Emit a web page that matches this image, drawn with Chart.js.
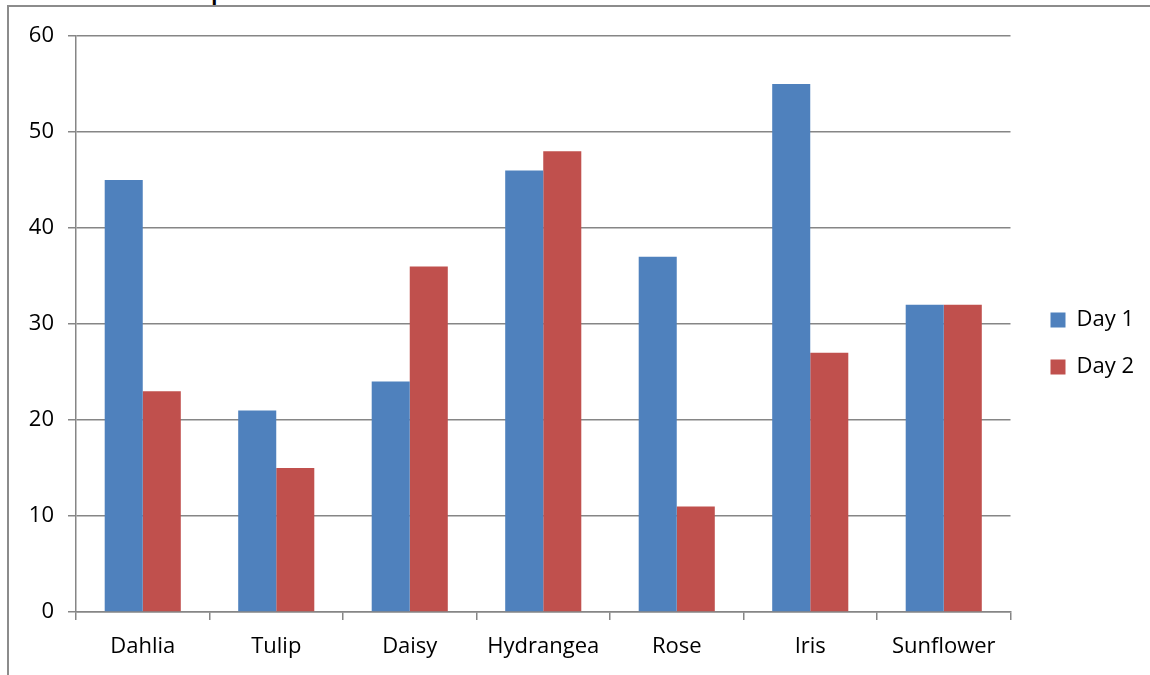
<!DOCTYPE html>
<html>
<head>
<meta charset="utf-8">
<script src="https://cdn.jsdelivr.net/npm/chart.js@4"></script>
<style>
  html, body { margin: 0; padding: 0; background: #fff; overflow: hidden; }
  #wrap { position: relative; width: 1150px; height: 675px; overflow: hidden; }
  #frame { position: absolute; left: 7px; top: 5px; width: 1150px; height: 700px;
           border-left: 2px solid #8c8c8c; border-top: 2px solid #8c8c8c; }
  #title { position: absolute; left: 6px; top: -37px; font-family: 'Open Sans', sans-serif;
           font-size: 36px; line-height: 44px; color: #000; white-space: nowrap; }
  canvas { position: absolute; left: 0; top: 0; }
</style>
</head>
<body>
<div id="wrap">
  <div id="title">Chart of Crop</div>
  <div id="frame"></div>
  <canvas id="c" width="1150" height="675"></canvas>
</div>
<script>
const categories = ['Dahlia', 'Tulip', 'Daisy', 'Hydrangea', 'Rose', 'Iris', 'Sunflower'];
const day1 = [45, 21, 24, 46, 37, 55, 32];
const day2 = [23, 15, 36, 48, 11, 27, 32];
const seriesNames = ['Day 1', 'Day 2'];
const yTicks = [0, 10, 20, 30, 40, 50, 60];

const FONT = { family: "'Open Sans', sans-serif", size: 22 };
const GRID = '#868686';

new Chart(document.getElementById('c'), {
  type: 'bar',
  data: {
    labels: categories,
    datasets: [
      { label: seriesNames[0], data: day1, backgroundColor: '#4F81BD', borderWidth: 0,
        categoryPercentage: 0.57, barPercentage: 1.0 },
      { label: seriesNames[1], data: day2, backgroundColor: '#C0504D', borderWidth: 0,
        categoryPercentage: 0.57, barPercentage: 1.0 }
    ]
  },
  options: {
    responsive: false,
    animation: false,
    devicePixelRatio: 1,
    layout: { padding: { top: 36, left: 0, right: 6, bottom: 0 } },
    plugins: {
      legend: {
        position: 'right',
        fullSize: false,
        title: { display: true, text: ' ', font: { size: 10, lineHeight: 1.2 }, padding: 13.5 },
        labels: { boxWidth: 15, boxHeight: 15, padding: 25, font: FONT, color: '#000' }
      },
      tooltip: { enabled: false }
    },
    scales: {
      x: {
        grid: { display: true, drawOnChartArea: false, drawTicks: true, tickLength: 8,
                color: GRID, lineWidth: 1.5, offset: true },
        border: { color: GRID, width: 1.5 },
        ticks: { font: FONT, color: '#000', padding: 14 },
        afterFit: s => { s.height = 63; }
      },
      y: {
        min: 0, max: 60,
        afterBuildTicks: s => { s.ticks = yTicks.map(v => ({ value: v })); },
        grid: { color: GRID, lineWidth: 1.5, tickLength: 8 },
        border: { color: GRID, width: 1.5 },
        ticks: { font: FONT, color: '#000', padding: 14 },
        afterFit: s => { s.width = 76; }
      },
      gap: {
        type: 'linear', position: 'right', display: true,
        grid: { display: false, drawTicks: false }, border: { display: false },
        ticks: { display: false },
        afterFit: s => { s.width = 15; }
      }
    }
  }
});
</script>
</body>
</html>
